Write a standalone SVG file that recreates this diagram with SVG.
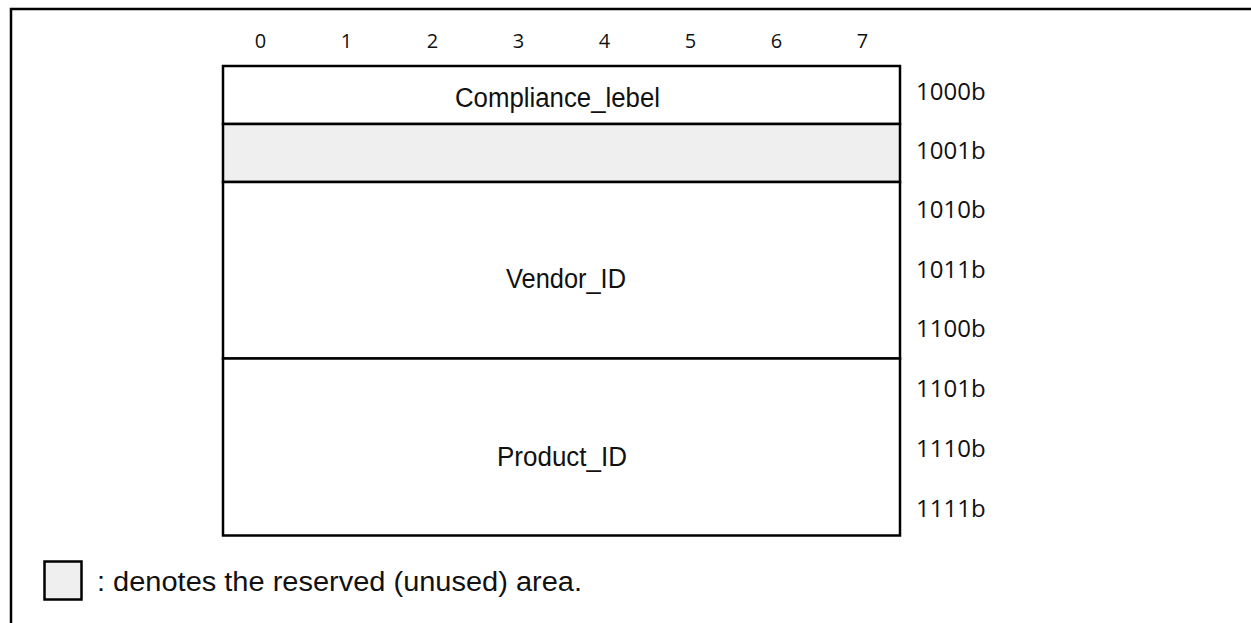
<svg xmlns="http://www.w3.org/2000/svg" width="1251" height="623" viewBox="0 0 1251 623">
<style>
.frame{fill:none;stroke:#000;stroke-width:2.5}
.cell{fill:#fff;stroke:#000;stroke-width:2.5}
.rsv{fill:#efefef;stroke:#000;stroke-width:2.5}
.lbl{font-family:"Liberation Sans",Arial,sans-serif;font-size:27px;fill:#111}
.num{font-family:"Open Sans","Noto Sans",sans-serif;font-size:20px;fill:#111;text-anchor:middle}
.addr{font-family:"Open Sans","Noto Sans",sans-serif;font-size:24px;fill:#111}
</style>
<rect width="1251" height="623" fill="#fff"/>
<path class="frame" d="M11,630 V9 H1260"/>
<g id="bit-header">
<text class="num" x="260.5" y="48">0</text>
<text class="num" x="346.5" y="48">1</text>
<text class="num" x="432.5" y="48">2</text>
<text class="num" x="518.5" y="48">3</text>
<text class="num" x="604.5" y="48">4</text>
<text class="num" x="690.5" y="48">5</text>
<text class="num" x="776.5" y="48">6</text>
<text class="num" x="862.5" y="48">7</text>
</g>
<g id="compliance">
<rect class="cell" x="223" y="66" width="677" height="58"/>
<text class="lbl" x="557.5" y="106.5" text-anchor="middle" textLength="205" lengthAdjust="spacingAndGlyphs">Compliance_lebel</text>
</g>
<g id="reserved">
<rect class="rsv" x="223" y="124" width="677" height="58"/>
</g>
<g id="vendor">
<rect class="cell" x="223" y="182" width="677" height="176.5"/>
<text class="lbl" x="566" y="288" text-anchor="middle" textLength="120" lengthAdjust="spacingAndGlyphs">Vendor_ID</text>
</g>
<g id="product">
<rect class="cell" x="223" y="358.5" width="677" height="177"/>
<text class="lbl" x="562" y="465.5" text-anchor="middle" textLength="130" lengthAdjust="spacingAndGlyphs">Product_ID</text>
</g>
<g id="addresses">
<text class="addr" x="916" y="100">1000b</text>
<text class="addr" x="916" y="158.5">1001b</text>
<text class="addr" x="916" y="218">1010b</text>
<text class="addr" x="916" y="277.5">1011b</text>
<text class="addr" x="916" y="337">1100b</text>
<text class="addr" x="916" y="397">1101b</text>
<text class="addr" x="916" y="457">1110b</text>
<text class="addr" x="916" y="517">1111b</text>
</g>
<g id="legend">
<rect class="rsv" x="44.5" y="561.5" width="37" height="38"/>
<text class="lbl" x="97" y="591" font-size="28" textLength="485" lengthAdjust="spacingAndGlyphs">: denotes the reserved (unused) area.</text>
</g>
<g id="connectors"/>
</svg>
